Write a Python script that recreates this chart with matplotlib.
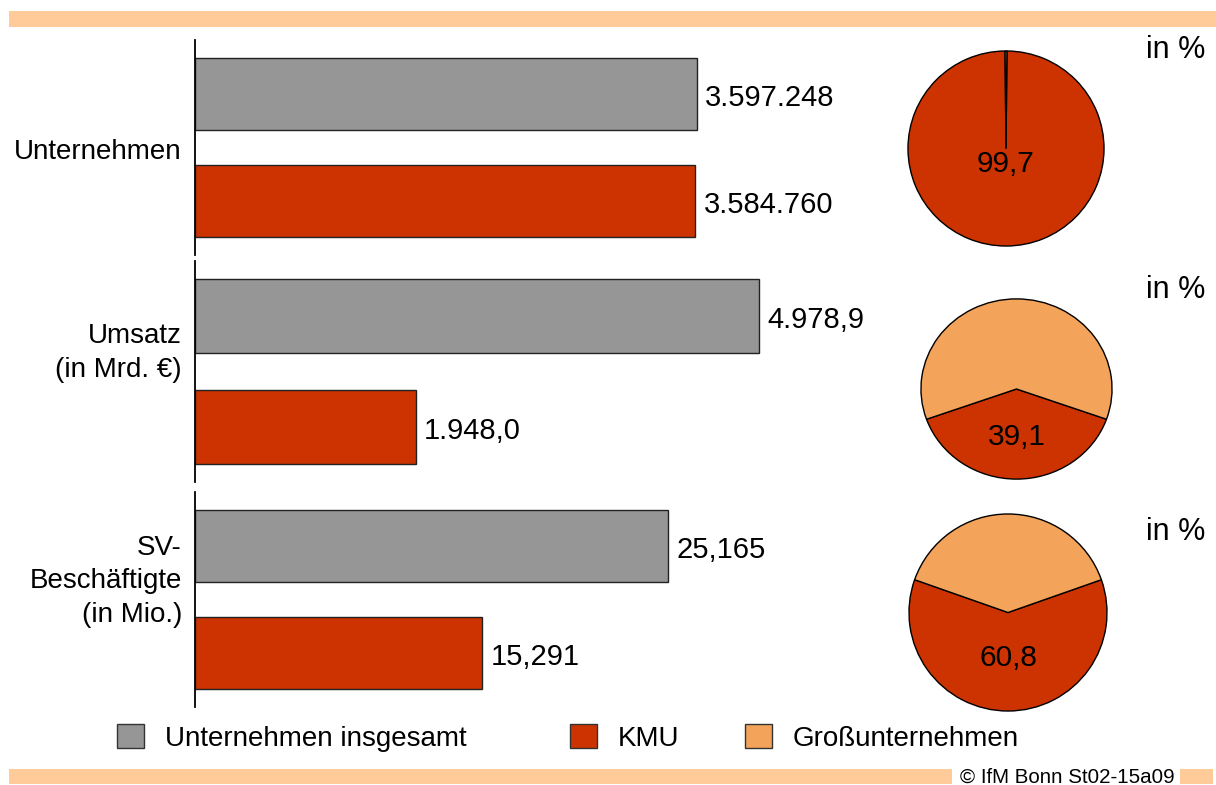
import matplotlib.pyplot as plt
from matplotlib.patches import Patch, Rectangle

plt.rcParams["font.family"] = ["Liberation Sans", "DejaVu Sans"]

# data
categories = ["Unternehmen", "Umsatz\n(in Mrd. €)", "SV-\nBeschäftigte\n(in Mio.)"]
total = [3597248, 4978.9, 25.165]
kmu = [3584760, 1948.0, 15.291]
decimals = [0, 1, 3]
kmu_share = [99.7, 39.1, 60.8]
legend_labels = ["Unternehmen insgesamt", "KMU", "Großunternehmen"]
source = "© IfM Bonn St02-15a09"

GRAY = "#969696"
RED = "#CC3300"
LIGHT = "#F3A35A"
STRIPE = "#FFCC99"

W, H = 1216, 785
fig = plt.figure(figsize=(W / 100, H / 100), dpi=100)


def box(x0, y0, x1, y1):
    # pixel box (top-left origin) -> figure fraction rect
    return [x0 / W, 1 - y1 / H, (x1 - x0) / W, (y1 - y0) / H]


def de_num(v, d):
    s = f"{v:,.{d}f}"
    return s.replace(",", "X").replace(".", ",").replace("X", ".")


# bar panels: (top, bottom) in pixels, x scale max per panel
bar_boxes = [(40, 255), (261, 482), (492, 707)]
xmax = [4.909e6, 6047, 36.44]
label_y = [0.48, 0.585, 0.585]

for i, (y0, y1) in enumerate(bar_boxes):
    ax = fig.add_axes(box(195, y0, 880, y1))
    ax.barh([1, 0], [total[i], kmu[i]], height=0.67, color=[GRAY, RED],
            edgecolor="#222222", linewidth=1)
    ax.set_xlim(0, xmax[i])
    ax.set_ylim(-0.5, 1.5)
    for sp in ["top", "right", "bottom"]:
        ax.spines[sp].set_visible(False)
    ax.spines["left"].set_linewidth(1.3)
    ax.set_xticks([])
    ax.set_yticks([])
    for yv, v in zip([1, 0], [total[i], kmu[i]]):
        ax.annotate(de_num(v, decimals[i]), (v, yv), xytext=(6, -3),
                    textcoords="offset points", va="center", ha="left",
                    fontsize=21)
    ax.text(-0.019, label_y[i], categories[i], transform=ax.transAxes,
            ha="right", va="center", fontsize=20, multialignment="right",
            linespacing=1.38)

# pies
pie_boxes = [(907, 50, 1105, 247), (920, 298, 1113, 480), (908, 513, 1108, 712)]
label_dist = [0.16, 0.53, 0.46]
inpct_y = [50, 290, 532]

for i, (x0, y0, x1, y1) in enumerate(pie_boxes):
    pax = fig.add_axes(box(x0, y0, x1, y1))
    p = kmu_share[i]
    pax.pie([p, 100 - p], colors=[RED, LIGHT], startangle=270 - 3.6 * p / 2,
            counterclock=True,
            wedgeprops=dict(edgecolor="black", linewidth=1))
    pax.set_aspect("auto")
    pax.set_xlim(-1.01, 1.01)
    pax.set_ylim(-1.01, 1.01)
    pax.text(0, -label_dist[i], de_num(p, 1), ha="center", va="center",
             fontsize=21.5)
    fig.text(1205 / W, 1 - inpct_y[i] / H, "in %", ha="right", va="center",
             fontsize=22)

# legend
leg_x = [117, 570, 745]
for lab, col, lx in zip(legend_labels, [GRAY, RED, LIGHT], leg_x):
    fig.legend(handles=[Patch(facecolor=col, edgecolor="#333333", linewidth=1)],
               labels=[lab], loc="center left",
               bbox_to_anchor=(lx / W, 1 - 738 / H), frameon=False,
               fontsize=20, handlelength=0.97, handleheight=0.97,
               handletextpad=0.75, borderpad=0, borderaxespad=0)

# stripes
for x0, y0, x1, y1 in [(9, 11, 1216, 27), (9, 769, 952, 784), (1180, 769, 1213, 784)]:
    fig.add_artist(Rectangle((x0 / W, 1 - y1 / H), (x1 - x0) / W, (y1 - y0) / H,
                             transform=fig.transFigure, facecolor=STRIPE,
                             edgecolor="none"))
fig.text(960 / W, 1 - 777 / H, source, ha="left", va="center", fontsize=14.8)

fig.savefig("out.png", dpi=100)
